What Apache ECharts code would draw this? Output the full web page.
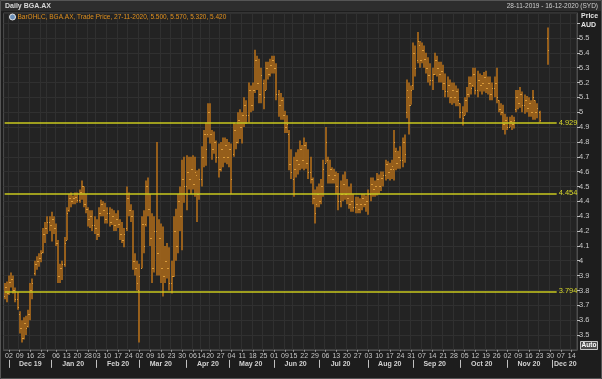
<!DOCTYPE html>
<html><head><meta charset="utf-8">
<script src="https://cdn.jsdelivr.net/npm/echarts@6/dist/echarts.min.js"></script>
<style>html,body{margin:0;padding:0;background:#1d1d1d}#c{width:602px;height:379px}</style>
</head><body><div id="c"></div>
<script>
// ---- data ----
const rangeStart = '2019-11-28';
const rangeEnd = '2020-12-16';
const holidays = ['2019-12-25','2019-12-26','2020-01-01','2020-01-27','2020-04-10','2020-04-13','2020-06-08'];
const hiddenDayLabels = ['2019-12-30'];
const opens = [
3.76,3.82,3.78,3.86,3.88,3.80,3.74,3.64,3.55,3.48,
3.58,3.56,3.64,3.80,3.92,3.98,4.00,4.02,4.06,4.18,
4.22,4.26,4.24,4.28,4.22,4.12,3.90,3.95,3.98,4.14,
4.34,4.42,4.40,4.42,4.43,4.41,4.46,4.50,4.38,4.35,
4.28,4.30,4.24,4.22,4.18,4.32,4.38,4.34,4.28,4.32,
4.26,4.30,4.24,4.28,4.25,4.18,4.14,4.22,4.42,4.34,
4.30,4.00,3.95,3.80,3.95,4.25,4.25,4.50,4.35,4.15,
3.95,4.20,4.05,4.15,3.95,3.90,4.00,3.95,3.85,3.90,
4.20,4.10,4.40,4.30,4.55,4.50,4.60,4.55,4.62,4.52,
4.58,4.45,4.55,4.70,4.85,4.85,5.00,4.85,4.75,4.80,
4.70,4.62,4.75,4.70,4.78,4.70,4.75,4.72,4.88,4.80,
4.95,4.90,4.98,5.05,4.98,5.15,5.05,5.15,5.35,5.20,
5.12,5.20,5.15,5.30,5.26,5.32,5.35,5.30,5.12,5.05,
5.08,4.98,4.90,4.85,4.65,4.55,4.62,4.68,4.65,4.75,
4.68,4.78,4.66,4.60,4.55,4.42,4.38,4.45,4.40,4.50,
4.66,4.68,4.58,4.62,4.55,4.58,4.50,4.40,4.45,4.52,
4.45,4.42,4.38,4.40,4.36,4.38,4.35,4.38,4.42,4.38,
4.40,4.45,4.52,4.48,4.50,4.55,4.50,4.56,4.58,4.65,
4.60,4.62,4.62,4.74,4.66,4.70,4.68,4.80,5.00,5.10,
5.05,5.18,5.40,5.35,5.45,5.35,5.42,5.36,5.30,5.25,
5.22,5.26,5.35,5.30,5.26,5.28,5.20,5.14,5.18,5.10,
5.15,5.10,5.14,5.06,5.00,4.98,5.08,5.12,5.20,5.18,
5.26,5.15,5.22,5.18,5.20,5.24,5.16,5.20,5.12,5.16,
5.20,5.08,5.02,5.00,4.92,4.95,4.90,4.94,4.92,5.02,
5.10,5.06,5.12,5.05,5.08,5.03,5.06,5.00,5.08,5.00,
5.00,null,null,null,5.50];
const highs = [
3.85,3.86,3.90,3.92,3.90,3.82,3.79,3.66,3.60,3.62,
3.63,3.67,3.85,3.88,4.00,4.03,4.05,4.07,4.22,4.26,
4.30,4.30,4.33,4.30,4.25,4.14,3.98,4.00,4.16,4.36,
4.45,4.46,4.44,4.46,4.46,4.48,4.54,4.50,4.45,4.36,
4.34,4.34,4.30,4.28,4.36,4.41,4.40,4.39,4.36,4.36,
4.35,4.34,4.32,4.34,4.28,4.26,4.22,4.50,4.46,4.38,
4.34,4.05,4.00,3.98,4.30,4.34,4.54,4.56,4.45,4.32,
4.30,4.80,4.28,4.25,4.23,4.10,4.12,4.09,4.00,4.30,
4.35,4.45,4.50,4.68,4.70,4.71,4.70,4.70,4.71,4.70,
4.61,4.62,4.77,4.88,4.93,5.06,5.06,4.88,4.87,4.81,
4.79,4.80,4.83,4.83,4.82,4.80,4.79,4.93,4.92,5.00,
5.02,5.00,5.10,5.08,5.20,5.18,5.20,5.42,5.38,5.36,
5.30,5.22,5.34,5.34,5.36,5.38,5.38,5.33,5.15,5.13,
5.10,5.01,4.98,4.88,4.75,4.70,4.73,4.75,4.81,4.78,
4.83,4.80,4.75,4.70,4.56,4.48,4.50,4.52,4.55,4.68,
4.90,4.70,4.68,4.63,4.62,4.60,4.59,4.54,4.58,4.60,
4.55,4.50,4.52,4.45,4.43,4.43,4.42,4.45,4.45,4.44,
4.48,4.56,4.56,4.54,4.59,4.58,4.60,4.60,4.68,4.67,
4.66,4.68,4.88,4.76,4.74,4.77,4.83,4.85,5.22,5.20,
5.18,5.47,5.45,5.54,5.48,5.47,5.45,5.40,5.37,5.33,
5.30,5.40,5.38,5.34,5.34,5.32,5.26,5.24,5.22,5.20,
5.20,5.18,5.16,5.06,5.04,5.10,5.17,5.24,5.24,5.30,
5.30,5.28,5.26,5.25,5.27,5.28,5.24,5.24,5.20,5.24,
5.30,5.08,5.06,5.05,4.99,4.97,4.97,4.98,4.97,5.15,
5.15,5.17,5.14,5.12,5.11,5.10,5.08,5.15,5.08,5.06,
5.01,null,null,null,5.57];
const lows = [
3.74,3.72,3.77,3.82,3.78,3.72,3.67,3.51,3.45,3.47,
3.50,3.55,3.60,3.74,3.90,3.94,3.96,3.99,4.05,4.12,
4.18,4.20,4.13,4.18,4.10,3.85,3.85,3.87,3.96,4.14,
4.33,4.36,4.38,4.38,4.39,4.39,4.41,4.36,4.32,4.23,
4.22,4.20,4.18,4.14,4.16,4.30,4.30,4.25,4.25,4.23,
4.24,4.20,4.20,4.22,4.14,4.12,4.09,4.20,4.30,4.26,
3.94,3.90,3.80,3.45,3.95,4.05,4.23,4.30,4.10,3.85,
3.92,3.90,3.90,3.85,3.76,3.85,3.88,3.80,3.78,3.89,
4.00,4.05,4.20,4.07,4.39,4.34,4.48,4.45,4.48,4.43,
4.26,4.41,4.50,4.63,4.64,4.83,4.79,4.68,4.72,4.66,
4.56,4.60,4.63,4.66,4.65,4.63,4.45,4.70,4.75,4.79,
4.82,4.79,4.90,4.92,4.93,5.00,5.01,5.13,5.15,5.06,
5.06,5.02,5.15,5.22,5.24,5.26,5.26,5.08,4.97,4.95,
4.95,4.86,4.86,4.61,4.55,4.43,4.56,4.58,4.61,4.62,
4.61,4.62,4.55,4.52,4.38,4.25,4.36,4.36,4.38,4.43,
4.66,4.52,4.52,4.52,4.52,4.45,4.34,4.36,4.40,4.41,
4.38,4.35,4.33,4.33,4.32,4.32,4.32,4.34,4.36,4.33,
4.31,4.40,4.43,4.43,4.44,4.45,4.47,4.50,4.54,4.55,
4.54,4.55,4.54,4.61,4.62,4.62,4.63,4.66,4.96,4.85,
5.05,5.15,5.24,5.33,5.30,5.33,5.30,5.26,5.20,5.18,
5.15,5.25,5.24,5.20,5.20,5.15,5.10,5.10,5.06,5.05,
5.06,5.04,5.04,4.96,4.91,4.98,5.00,5.10,5.12,5.17,
5.12,5.10,5.14,5.12,5.14,5.13,5.12,5.08,5.08,5.10,
5.06,5.00,4.98,4.88,4.85,4.88,4.90,4.88,4.89,5.00,
5.02,5.03,5.00,4.99,5.00,4.97,4.97,4.95,4.95,4.96,
4.93,null,null,null,5.32];
const closes = [
3.82,3.78,3.86,3.88,3.80,3.74,3.69,3.55,3.48,3.58,
3.55,3.64,3.80,3.85,3.98,4.00,4.02,4.05,4.18,4.22,
4.26,4.24,4.28,4.22,4.12,3.90,3.95,3.98,4.12,4.32,
4.42,4.40,4.42,4.43,4.41,4.46,4.50,4.38,4.35,4.28,
4.30,4.24,4.22,4.18,4.32,4.38,4.34,4.28,4.32,4.26,
4.30,4.24,4.28,4.25,4.18,4.14,4.18,4.42,4.34,4.30,
4.00,3.95,3.85,3.90,4.25,4.10,4.50,4.35,4.15,3.95,
4.20,4.05,4.15,3.95,3.90,4.00,3.95,3.85,3.90,4.20,
4.10,4.40,4.30,4.55,4.50,4.60,4.55,4.62,4.52,4.60,
4.45,4.55,4.70,4.85,4.75,5.00,4.85,4.75,4.80,4.70,
4.62,4.75,4.70,4.78,4.70,4.75,4.55,4.88,4.80,4.95,
4.90,4.98,5.05,4.98,5.15,5.05,5.15,5.35,5.20,5.12,
5.25,5.10,5.30,5.26,5.32,5.35,5.30,5.12,5.05,5.08,
4.98,4.90,4.92,4.65,4.60,4.62,4.68,4.65,4.75,4.68,
4.78,4.66,4.60,4.55,4.42,4.32,4.45,4.40,4.50,4.62,
4.80,4.58,4.62,4.55,4.58,4.50,4.40,4.45,4.52,4.45,
4.42,4.38,4.40,4.36,4.38,4.35,4.38,4.42,4.38,4.40,
4.45,4.52,4.48,4.50,4.55,4.50,4.56,4.58,4.65,4.60,
4.62,4.64,4.80,4.66,4.70,4.68,4.80,4.72,5.15,5.05,
5.15,5.40,5.30,5.48,5.35,5.42,5.36,5.30,5.25,5.22,
5.26,5.35,5.30,5.26,5.28,5.20,5.14,5.18,5.10,5.15,
5.10,5.14,5.08,5.00,4.96,5.08,5.12,5.20,5.16,5.26,
5.15,5.22,5.18,5.20,5.24,5.16,5.20,5.12,5.16,5.20,
5.10,5.02,5.00,4.92,4.95,4.90,4.94,4.92,4.95,5.10,
5.06,5.12,5.05,5.08,5.03,5.06,5.00,5.10,5.00,5.03,
4.95,null,null,null,5.42];
const levels = [4.929, 4.454, 3.794];
const lastPrice = 5.42;
const monthNames = ['Jan','Feb','Mar','Apr','May','Jun','Jul','Aug','Sep','Oct','Nov','Dec'];
const titleText = 'Daily BGA.AX';
const rangeText = '28-11-2019 - 16-12-2020 (SYD)';
const legendText = 'BarOHLC, BGA.AX, Trade Price, 27-11-2020, 5.500, 5.570, 5.320, 5.420';

// ---- trading-day categories ----
function fmt(d){const m=d.getUTCMonth()+1, dd=d.getUTCDate();return d.getUTCFullYear()+'-'+(m<10?'0':'')+m+'-'+(dd<10?'0':'')+dd;}
const dates = [];
for (let d = new Date(rangeStart+'T00:00:00Z'); fmt(d) <= rangeEnd; d.setUTCDate(d.getUTCDate()+1)) {
  const w = d.getUTCDay();
  const s = fmt(d);
  if (w !== 0 && w !== 6 && holidays.indexOf(s) < 0) dates.push(s);
}
const N = dates.length;
const dow = dates.map(s => new Date(s+'T00:00:00Z').getUTCDay());
const weekStart = dates.map((s,i) => i > 0 && dow[i] < dow[i-1]);
const monthStart = dates.map((s,i) => i > 0 && s.slice(5,7) !== dates[i-1].slice(5,7));
const monthLabelAt = new Array(N).fill(false);
monthStart.forEach((v,i) => { if (v) monthLabelAt[Math.min(i+10, N-6)] = true; });

const ohlc = [];
for (let i = 0; i < opens.length; i++) {
  if (opens[i] == null) continue;
  ohlc.push([i, opens[i], highs[i], lows[i], closes[i]]);
}

const FONT = 'Liberation Sans';
const barColor = '#a9691a';
const tickColor = '#d99a3a';

function renderItem(params, api) {
  const i = api.value(0);
  const pH = api.coord([i, api.value(2)]);
  const pL = api.coord([i, api.value(3)]);
  const pO = api.coord([i, api.value(1)]);
  const pC = api.coord([i, api.value(4)]);
  const x = Math.round(pH[0]);
  return {
    type: 'group',
    children: [
      {type:'line', shape:{x1:x, y1:pH[1], x2:x, y2:pL[1]}, style:{stroke:barColor, lineWidth:2, opacity:0.85}},
      {type:'line', shape:{x1:x-1, y1:Math.round(pO[1])+0.5, x2:x, y2:Math.round(pO[1])+0.5}, style:{stroke:tickColor, lineWidth:1}},
      {type:'line', shape:{x1:x, y1:Math.round(pC[1])+0.5, x2:x+1, y2:Math.round(pC[1])+0.5}, style:{stroke:tickColor, lineWidth:1}}
    ]
  };
}

const levelEnd = dates[258];
const markData = levels.map(v => [
  {coord:[dates[0], v], label:{formatter: v.toFixed(3)}},
  {coord:[levelEnd, v]}
]);
markData.push({
  yAxis: lastPrice,
  lineStyle:{opacity:0},
  label:{formatter: lastPrice.toFixed(3), position:'end', distance:1, color:'#111', backgroundColor:'#f2a21a',
         padding:[2,2,1,2], fontSize:7.5, fontWeight:'bold', fontFamily:FONT}
});

const chart = echarts.init(document.getElementById('c'), null, {renderer:'canvas'});
chart.setOption({
  backgroundColor: '#1d1d1d',
  animation: false,
  grid: {left:3.6, right:25, top:13, bottom:29.15, show:true, backgroundColor:'#232323', borderColor:'#4d4d4d', borderWidth:1},
  xAxis: [{
    type:'category', data:dates, boundaryGap:true,
    axisLine:{show:true, lineStyle:{color:'#4d4d4d'}},
    axisTick:{show:true, alignWithLabel:true, length:2, interval:(i)=>weekStart[i], lineStyle:{color:'#999'}},
    axisLabel:{interval:(i,v)=>weekStart[i] && hiddenDayLabels.indexOf(v)<0, formatter:(v)=>v.slice(8),
               color:'#c6c6c6', fontSize:7, margin:2.5, fontFamily:FONT},
    splitLine:{show:true, interval:(i)=>weekStart[i], lineStyle:{color:'#303030', width:1}}
  },{
    type:'category', data:dates, boundaryGap:true, position:'bottom', offset:10,
    axisLine:{show:false},
    axisTick:{show:true, alignWithLabel:true, length:8, interval:(i)=>monthStart[i], lineStyle:{color:'#c0c0c0'}},
    axisLabel:{interval:(i)=>monthLabelAt[i], formatter:(v)=>monthNames[+v.slice(5,7)-1]+' '+v.slice(2,4),
               color:'#d2d2d2', fontSize:7, fontWeight:'bold', margin:0.5, fontFamily:FONT},
    splitLine:{show:false}
  }],
  yAxis: {
    type:'value', position:'right', min:3.4, max:5.668, interval:0.1,
    axisLine:{show:true, lineStyle:{color:'#4d4d4d'}},
    axisTick:{show:true, length:3, lineStyle:{color:'#bdbdbd'}},
    axisLabel:{color:'#c8c8c8', fontSize:7.5, margin:2, fontFamily:FONT, showMinLabel:false, showMaxLabel:false,
               formatter:(v)=> v > 5.55 ? '' : String(+v.toFixed(1))},
    splitLine:{show:true, lineStyle:{color:'#303030'}}
  },
  series: [{
    type:'custom', renderItem: renderItem, data: ohlc,
    encode:{x:0, y:[1,2,3,4]},
    clip:true,
    markLine:{
      silent:true, symbol:['none','none'], animation:false,
      lineStyle:{color:'#c9c91e', width:1.5, type:'solid'},
      label:{show:true, position:'end', distance:2, color:'#d8d82a', fontSize:7.5, fontFamily:FONT},
      data: markData
    }
  }],
  graphic: [
    {type:'rect', shape:{x:0, y:0, width:602, height:11}, style:{fill:'#2d2d2d'}, z:10},
    {type:'rect', shape:{x:0.5, y:0.5, width:601, height:378}, style:{fill:'none', stroke:'#555', lineWidth:1}, z:11},
    {type:'text', x:5, y:6, style:{text:titleText, fill:'#d8d8d8', font:'bold 7px "Liberation Sans"', textVerticalAlign:'middle'}, z:12},
    {type:'text', x:598, y:6.5, style:{text:rangeText, fill:'#cfcfcf', font:'6.5px "Liberation Sans"', textAlign:'right', textVerticalAlign:'middle'}, z:12},
    {type:'circle', shape:{cx:12.5, cy:17, r:3}, style:{fill:'#6b8fb8', stroke:'#e6e6e6', lineWidth:1}, z:12},
    {type:'text', x:17.5, y:17, style:{text:legendText, fill:'#e2911e', font:'6.5px "Liberation Sans"', textVerticalAlign:'middle'}, z:12},
    {type:'text', x:581, y:16.5, style:{text:'Price', fill:'#e4e4e4', font:'bold 7px "Liberation Sans"', textVerticalAlign:'middle'}, z:12},
    {type:'text', x:581, y:25, style:{text:'AUD', fill:'#e4e4e4', font:'bold 7px "Liberation Sans"', textVerticalAlign:'middle'}, z:12},
    {type:'rect', shape:{x:580.5, y:341.5, width:17, height:8}, style:{fill:'#4a4a4a', stroke:'#c8c8c8', lineWidth:1}, z:12},
    {type:'text', x:589, y:345.7, style:{text:'Auto', fill:'#ffffff', font:'bold 6.5px "Liberation Sans"', textAlign:'center', textVerticalAlign:'middle'}, z:13}
  ]
});
</script></body></html>
